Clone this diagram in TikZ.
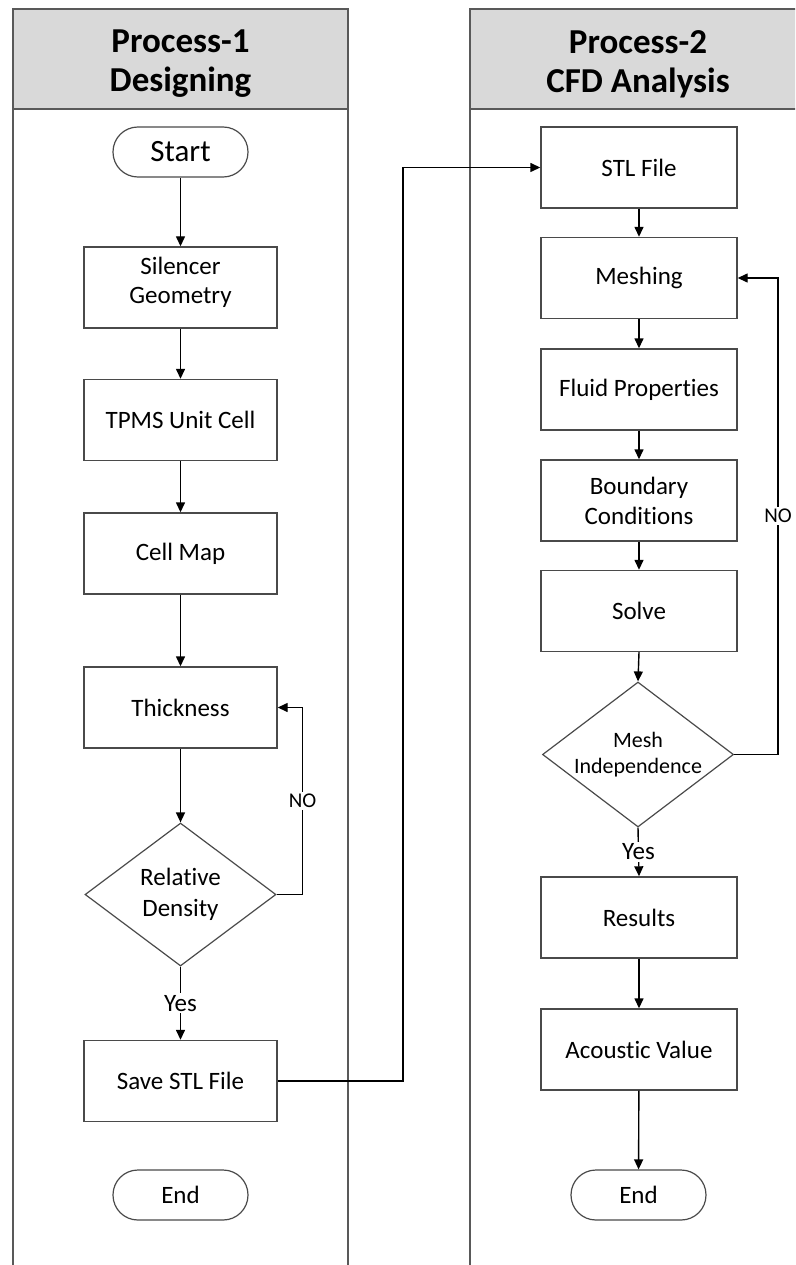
\documentclass[tikz,border=0pt]{standalone}
\usepackage{fontspec}
\setmainfont{Carlito}[Ligatures=NoCommon]
\usetikzlibrary{arrows.meta,shapes.geometric}

\definecolor{lanegray}{HTML}{595959}
\definecolor{boxgray}{HTML}{4A4A4A}
\definecolor{headfill}{HTML}{D9D9D9}

\begin{document}
\begin{tikzpicture}[x=1pt,y=-1pt,
  lane/.style={draw=lanegray, line width=1.3pt},
  header/.style={align=center, font=\fontsize{35}{39}\selectfont\bfseries},
  procbox/.style={draw=boxgray, line width=1.4pt, fill=white, minimum height=81pt,
    inner sep=0pt, align=center, font=\fontsize{25}{30}\selectfont},
  lbox/.style={procbox, minimum width=193pt},
  rbox/.style={procbox, minimum width=196pt},
  term/.style={draw=boxgray, line width=1.2pt, rounded corners=24.9pt, minimum width=135pt,
    minimum height=50pt, inner sep=0pt, font=\fontsize{25}{30}\selectfont},
  decision/.style={diamond, draw=boxgray, line width=1.2pt, inner sep=0pt, align=center},
  arr/.style={draw=black, line width=1.4pt, -{Triangle[length=10pt,width=9pt]}},
  lbl/.style={fill=white, inner sep=2pt}
]
\useasboundingbox (0,0) rectangle (795,1265);
\clip (0,0) rectangle (795,1265);

% swim lanes
\fill[headfill] (13,9) rectangle (348,109);
\fill[headfill] (470,9) rectangle (806,109);
\draw[lane] (13,1280) -- (13,9) -- (348,9) -- (348,1280);
\draw[lane] (13,109) -- (348,109);
\draw[lane] (470,1280) -- (470,9) -- (806,9) -- (806,1280);
\draw[lane] (470,109) -- (806,109);
\node[header] (h1) at (180.5,64) {Process-1\\Designing};
\node[header] (h2) at (638,64) {Process-2\\CFD Analysis};

% Process-1: designing
\node[term, font=\fontsize{31}{36}\selectfont] (start) at (180.5,152) {Start};
\node[lbox] (geom)  at (180.5,287.5)
  {\raisebox{0pt}[\height][\dimexpr\depth+10pt\relax]{\begin{tabular}{@{}c@{}}Silencer\\[-1pt]Geometry\end{tabular}}};
\node[lbox] (tpms)  at (180.5,420)   {TPMS Unit Cell};
\node[lbox] (cmap)  at (180.5,553.5) {Cell Map};
\node[lbox] (thick) at (180.5,707.5) {Thickness};
\node[decision, minimum width=191pt, minimum height=143pt, aspect=1.336,
      font=\fontsize{25}{31}\selectfont] (rd) at (180.5,894.5) {Relative\\Density};
\node[lbox] (save)  at (180.5,1081)  {Save STL File};
\node[term] (end1)  at (180.5,1195)  {End};

% Process-2: CFD analysis
\node[rbox] (stl)   at (639,167.5) {STL File};
\node[rbox] (mesh)  at (639,278)   {Meshing};
\node[rbox] (fluid) at (639,389.5) {Fluid Properties};
\node[rbox] (bc)    at (639,500.5) {Boundary\\Conditions};
\node[rbox] (solve) at (639,611)   {Solve};
\node[decision, minimum width=191pt, minimum height=145pt, aspect=1.317,
      font=\fontsize{22}{26}\selectfont] (mi) at (638,754.5) {Mesh\\Independence};
\node[rbox] (res)   at (639,917.5)  {Results};
\node[rbox] (acv)   at (639,1049.5) {Acoustic Value};
\node[term] (end2)  at (638.5,1195) {End};

% flow in process-1
\draw[arr] (start) -- (geom);
\draw[arr] (geom) -- (tpms);
\draw[arr] (tpms) -- (cmap);
\draw[arr] (cmap) -- (thick);
\draw[arr] (thick) -- (rd);
\draw[arr] (rd.east) -- ++(26,0) |- (thick.east)
  node[pos=0.25, lbl, font=\fontsize{21}{25}\selectfont] {NO};
\draw[arr] (rd.south) -- (save.north)
  node[midway, lbl, font=\fontsize{25}{30}\selectfont] {Yes};

% hand-over between the lanes
\coordinate (jog) at (403,0);
\draw[arr] (save.east) -- (save.east -| jog) |- (stl.west);

% flow in process-2
\draw[arr] (stl) -- (mesh);
\draw[arr] (mesh) -- (fluid);
\draw[arr] (fluid) -- (bc);
\draw[arr] (bc) -- (solve);
\draw[arr] (solve.south) -- (mi.north);
\draw[arr] (mi.east) -- ++(44,0) |- (mesh.east)
  node[pos=0.25, lbl, font=\fontsize{21}{25}\selectfont] {NO};
\draw[arr] (mi.south) -- (res.north)
  node[midway, lbl, font=\fontsize{25}{30}\selectfont] {Yes};
\draw[arr] (res) -- (acv);
\draw[arr] (acv) -- (end2);
\end{tikzpicture}
\end{document}
